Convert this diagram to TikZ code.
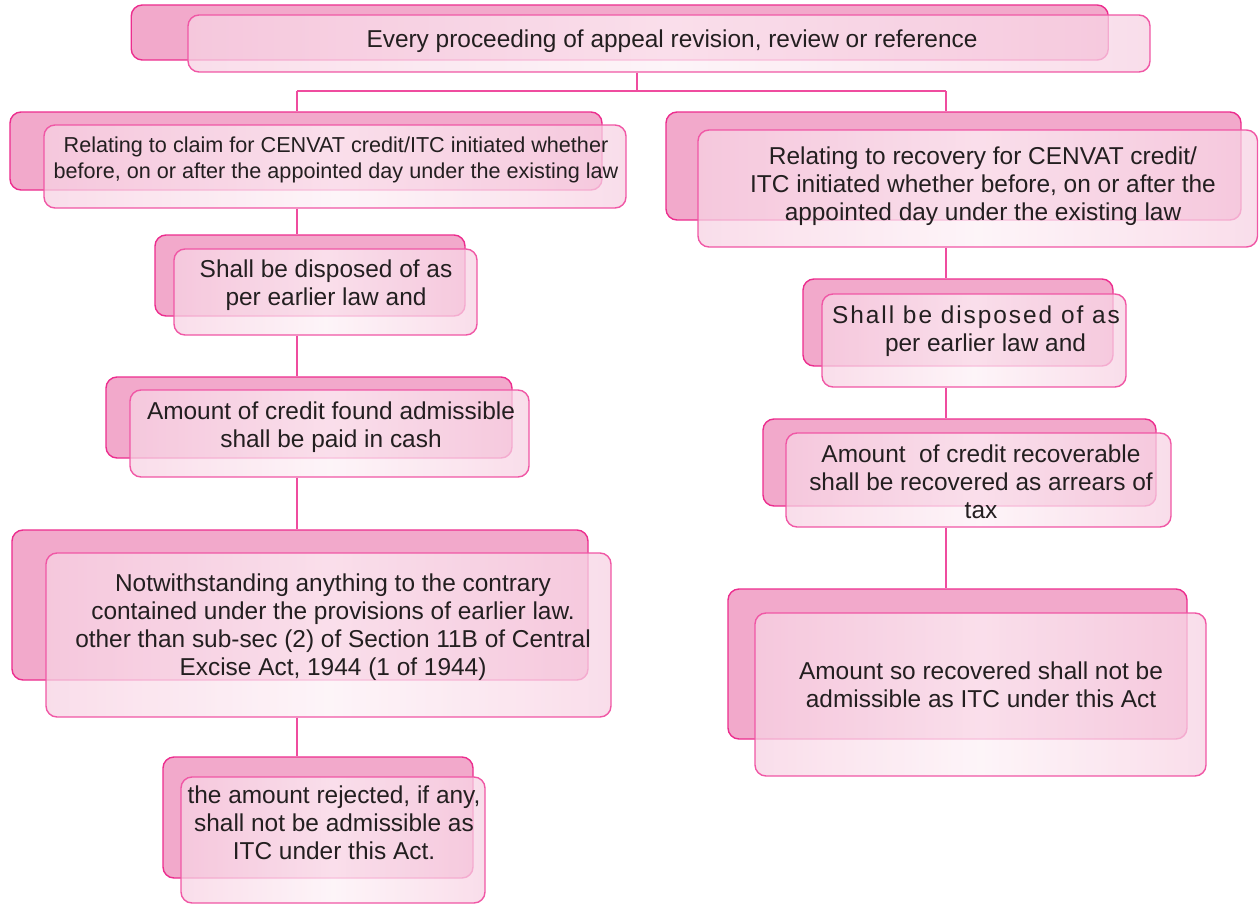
\documentclass[tikz,border=0pt]{standalone}
\usepackage{fontspec}
\setmainfont{Liberation Sans}
\newfontfamily\spacedsans[LetterSpace=8]{Liberation Sans}
\usetikzlibrary{positioning}
\definecolor{pinkback}{HTML}{F2A9CB}
\definecolor{pinkedge}{HTML}{EC2D8E}
\definecolor{pinkfront}{HTML}{F7D2E3}
\definecolor{pinklight}{HTML}{FDF1F6}
\definecolor{inkgray}{HTML}{231F20}
\tikzset{
  backbox/.style={draw=pinkedge, fill=pinkback, line width=0.8pt, rounded corners=0.22cm, inner sep=0pt},
  frontbox/.style={draw=pinkedge!80, line width=0.8pt, rounded corners=0.22cm, inner sep=0pt,
    left color=pinkfront, right color=pinkfront, middle color=pinklight, fill opacity=0.75},
  txt/.style={align=center, text=inkgray, font=\fontsize{13.9}{16}\selectfont},
  smalltxt/.style={txt, font=\fontsize{12.3}{15}\selectfont},
  link/.style={draw=pinkedge!85, line width=0.9pt},
}

\begin{document}
\begin{tikzpicture}
\useasboundingbox (0,0) rectangle (25.18,-18.1);

% top box
\node[backbox, minimum width=19.54cm, minimum height=1.1cm] (topb) at (12.395,-0.65) {};
\node[frontbox, minimum width=19.24cm, minimum height=1.14cm] (top) at (13.38,-0.87) {};
\node[txt] (toptxt) at (13.44,-0.82) {Every proceeding of appeal revision, review or reference};

% left column
\node[backbox, minimum width=11.84cm, minimum height=1.56cm] (l1b) at (6.12,-3.02) {};
\node[frontbox, minimum width=11.64cm, minimum height=1.66cm] (l1) at (6.7,-3.33) {};
\node[smalltxt] (l1txt) at (6.72,-3.2) {Relating to claim for CENVAT credit/ITC initiated whether\\before, on or after the appointed day under the existing law};

\node[backbox, minimum width=6.2cm, minimum height=1.62cm] (l2b) at (6.2,-5.51) {};
\node[frontbox, minimum width=6.06cm, minimum height=1.72cm] (l2) at (6.51,-5.84) {};
\node[txt] (l2txt) at (6.52,-5.7) {Shall be disposed of as\\per earlier law and};

\node[backbox, minimum width=8.12cm, minimum height=1.62cm] (l3b) at (6.18,-8.35) {};
\node[frontbox, minimum width=7.98cm, minimum height=1.74cm] (l3) at (6.59,-8.67) {};
\node[txt] (l3txt) at (6.62,-8.54) {Amount of credit found admissible\\shall be paid in cash};

\node[backbox, minimum width=11.52cm, minimum height=3.0cm] (l4b) at (6.0,-12.1) {};
\node[frontbox, minimum width=11.3cm, minimum height=3.28cm] (l4) at (6.57,-12.7) {};
\node[txt] (l4txt) at (6.66,-12.54) {Notwithstanding anything to the contrary\\contained under the provisions of earlier law.\\other than sub-sec (2) of Section 11B of Central\\Excise Act, 1944 (1 of 1944)};

\node[backbox, minimum width=6.2cm, minimum height=2.42cm] (l5b) at (6.36,-16.35) {};
\node[frontbox, minimum width=6.08cm, minimum height=2.52cm] (l5) at (6.66,-16.8) {};
\node[txt] (l5txt) at (6.68,-16.46) {the amount rejected, if any,\\shall not be admissible as\\ITC under this Act.};

% right column
\node[backbox, minimum width=11.5cm, minimum height=2.16cm] (r1b) at (19.07,-3.32) {};
\node[frontbox, minimum width=11.19cm, minimum height=2.34cm] (r1) at (19.555,-3.77) {};
\node[txt] (r1txt) at (19.66,-3.72) {Relating to recovery for CENVAT credit/\\ITC initiated whether before, on or after the\\appointed day under the existing law};

\node[backbox, minimum width=6.2cm, minimum height=1.74cm] (r2b) at (19.16,-6.45) {};
\node[frontbox, minimum width=6.08cm, minimum height=1.86cm] (r2) at (19.48,-6.81) {};
\node[txt] (r2txt) at (19.52,-6.62) {{\spacedsans Shall be disposed of as}\\\hspace*{0.38cm}per earlier law and};

\node[backbox, minimum width=7.86cm, minimum height=1.74cm] (r3b) at (19.19,-9.25) {};
\node[frontbox, minimum width=7.7cm, minimum height=1.88cm] (r3) at (19.57,-9.6) {};
\node[txt] (r3txt) at (19.62,-9.63) {Amount\ \ of credit recoverable\\shall be recovered as arrears of\\tax};

\node[backbox, minimum width=9.18cm, minimum height=3.0cm] (r4b) at (19.15,-13.28) {};
\node[frontbox, minimum width=9.02cm, minimum height=3.26cm] (r4) at (19.61,-13.89) {};
\node[txt] (r4txt) at (19.62,-13.69) {Amount so recovered shall not be\\admissible as ITC under this Act};

% connectors
\coordinate (split) at (12.74,-1.82);
\coordinate (trunkL) at (5.94,-1.82);
\coordinate (trunkR) at (18.92,-1.82);
\draw[link] (top.south -| split) -- (split);
\draw[link] (trunkL) -- (trunkR);
\draw[link] (trunkL) -- (trunkL |- l1b.north);
\draw[link] (trunkR) -- (trunkR |- r1b.north);
\foreach \a/\b in {l1/l2b,l2/l3b,l3/l4b,l4/l5b}
  \draw[link] (trunkL |- \a.south) -- (trunkL |- \b.north);
\foreach \a/\b in {r1/r2b,r2/r3b,r3/r4b}
  \draw[link] (trunkR |- \a.south) -- (trunkR |- \b.north);
\end{tikzpicture}
\end{document}
